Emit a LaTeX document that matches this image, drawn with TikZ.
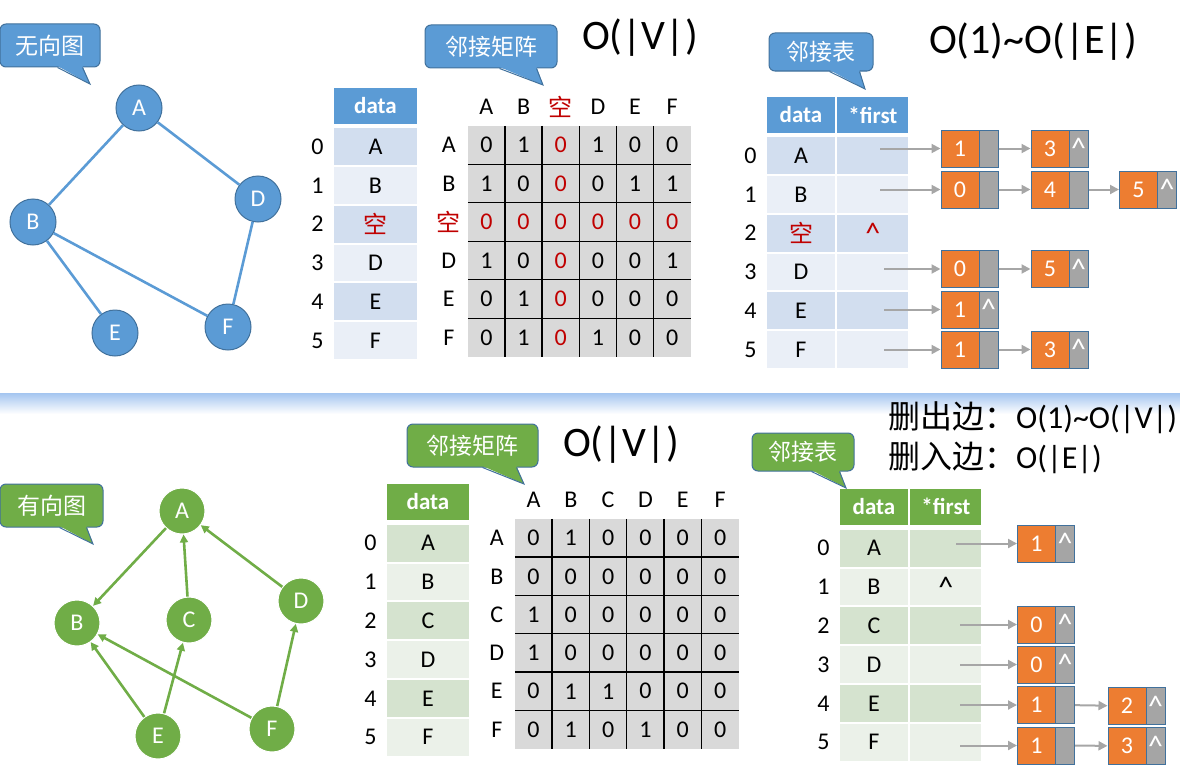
\documentclass[tikz,border=0pt]{standalone}
\usepackage{fontspec}
\setmainfont{Carlito}
\newfontfamily\cjk{Noto Sans CJK SC}
\usetikzlibrary{arrows.meta, positioning, calc}
\usepackage{xcolor}
\definecolor{ublue}{HTML}{5B9BD5}
\definecolor{outline}{HTML}{41719C}
\definecolor{uband}{HTML}{D2DEEF}
\definecolor{ubandlt}{HTML}{EAEFF7}
\definecolor{dgreen}{HTML}{70AD47}
\definecolor{dband}{HTML}{D5E3CF}
\definecolor{dbandlt}{HTML}{EBF1E9}
\definecolor{matgray}{HTML}{D9D9D9}
\definecolor{listorange}{HTML}{ED7D31}
\definecolor{listgray}{HTML}{A5A5A5}
\definecolor{ptrgray}{HTML}{A6A6A6}
\definecolor{emptyred}{HTML}{C00000}
\definecolor{sepblue}{HTML}{A4C5F0}
\newcommand{\fsz}[1]{\fontsize{#1}{#1}\selectfont}

\begin{document}
\begin{tikzpicture}[
    x=1pt, y=-1pt,
    % --- graph styles ---
    vtx/.style={circle, minimum size=46pt, inner sep=0pt, line width=1pt,
      text=white, font=\fsz{24}},
    uvtx/.style={vtx, fill=ublue, draw=outline},
    dvtx/.style={vtx, fill=dgreen, draw=white},
    uline/.style={draw=ublue, line width=2.6pt},
    darr/.style={draw=dgreen, line width=2.6pt, -{Triangle[length=8pt, width=8pt]}},
    % --- callouts ---
    bubble/.style={rectangle, rounded corners=6pt, draw=outline, line width=1pt,
      inner sep=0pt, text=white, font=\cjk\fsz{23}},
    % --- tables ---
    hdr/.style={minimum height=36pt, inner sep=0pt, text=white,
      font=\bfseries\fsz{23}},
    cell/.style={minimum height=36.8pt, inner sep=0pt, font=\fsz{24}},
    idx/.style={inner sep=0pt, font=\fsz{24}},
    num/.style={inner sep=0pt, font=\fsz{24}},
    mat/.style={fill=matgray, inner sep=0pt},
    gridline/.style={black, line width=1.3pt},
    bigo/.style={inner sep=0pt, font=\fsz{42}},
    nil/.style={inner sep=0pt, font=\fsz{30}},
    % --- linked lists ---
    lval/.style={draw=outline, fill=listorange, line width=1pt,
      minimum width=38pt, minimum height=37pt, inner sep=0pt,
      text=white, font=\fsz{24}},
    lptr/.style={draw=outline, fill=listgray, line width=1pt,
      minimum width=19pt, minimum height=37pt, inner sep=0pt,
      text=white, font=\fsz{30}},
    ptr/.style={draw=ptrgray, line width=2pt, -{Triangle[length=9pt, width=9pt]}},
  ]
  \useasboundingbox (0,0) rectangle (1180,776);

  % ── Separator band ──
  \shade[top color=sepblue, bottom color=white] (0,393) rectangle (1180,414);

  % ── Undirected graph ──
  \node[uvtx] (uA) at (139,108) {A};
  \node[uvtx] (uB) at (33,222)  {B};
  \node[uvtx] (uD) at (258,199) {D};
  \node[uvtx] (uE) at (115,333) {E};
  \node[uvtx] (uF) at (228,327) {F};
  \draw[uline] (uA) -- (uB);
  \draw[uline] (uA) -- (uD);
  \draw[uline] (uB) -- (uE);
  \draw[uline] (uB) -- (uF);
  \draw[uline] (uD) -- (uF);

  \node[bubble, fill=ublue, minimum width=100pt, minimum height=43pt]
    (ub1) at (50,45.5) {无向图};
  \coordinate (ub1tip) at (90,84);
  \fill[ublue] ($(ub1.south west)+(58,-1.5)$) -- (ub1tip) -- ($(ub1.south west)+(83,-1.5)$) -- cycle;
  \draw[outline, line width=1pt] ($(ub1.south west)+(58,0)$) -- (ub1tip) -- ($(ub1.south west)+(83,0)$);

  % ── Undirected: vertex table ──
  \node[hdr, fill=ublue, minimum width=83pt] (udh) at (375.5,106) {data};
  \foreach \txt [count=\ri from 0] in {A,B,{\cjk\color{emptyred}空},D,E,F}{
    \ifodd\ri \def\band{ubandlt}\else\def\band{uband}\fi
    \node[cell, fill=\band, minimum width=83pt] (ud\ri)
      at ($(udh.south)+(0,{22.4+38.8*\ri})$) {\txt};
    \node[idx, left=10pt of ud\ri] (udi\ri) {\ri};
  }

  % ── Undirected: adjacency matrix ──
  \node[bubble, fill=ublue, minimum width=132pt, minimum height=43pt]
    (ub2) at (491,46.5) {邻接矩阵};
  \coordinate (ub2tip) at (543,85);
  \fill[ublue] ($(ub2.south west)+(75,-1.5)$) -- (ub2tip) -- ($(ub2.south west)+(112,-1.5)$) -- cycle;
  \draw[outline, line width=1pt] ($(ub2.south west)+(75,0)$) -- (ub2tip) -- ($(ub2.south west)+(112,0)$);
  \node[bigo] (ucost) at (640,38) {O(|V|)};

  \node[mat, minimum width=223pt, minimum height=231pt] (umat) at (579.5,241.5) {};
  \foreach \k in {1,...,5}{
    \draw[gridline] ($(umat.north west)+({37.17*\k},0)$) -- ($(umat.south west)+({37.17*\k},0)$);
    \draw[gridline] ($(umat.north west)+(0,{38.5*\k})$) -- ($(umat.north east)+(0,{38.5*\k})$);
  }
  \foreach \h [count=\ci from 0] in {A,B,{\cjk\color{emptyred}空},D,E,F}{
    \node[num] (uch\ci) at ($(umat.north west)+({37.17*(\ci+0.5)},-19)$) {\h};
    \node[num] (urh\ci) at ($(umat.north west)+(-19,{38.5*(\ci+0.5)})$) {\h};
  }
  \foreach \vals [count=\ri from 0] in
      {{0,1,0,1,0,0},{1,0,0,0,1,1},{0,0,0,0,0,0},{1,0,0,0,0,1},{0,1,0,0,0,0},{0,1,0,1,0,0}}
    \foreach \v [count=\ci from 0] in \vals {
      \ifnum\ri=2 \def\numcol{emptyred}\else\ifnum\ci=2 \def\numcol{emptyred}\else\def\numcol{black}\fi\fi
      \node[num, text=\numcol] (um\ri\ci)
        at ($(umat.north west)+({37.17*(\ci+0.5)},{38.5*(\ri+0.5)})$) {\v};
    }

  % ── Undirected: adjacency list ──
  \node[bubble, fill=ublue, minimum width=104pt, minimum height=38pt]
    (ub3) at (821,52) {邻接表};
  \coordinate (ub3tip) at (865,89);
  \fill[ublue] ($(ub3.south west)+(61,-1.5)$) -- (ub3tip) -- ($(ub3.south west)+(91,-1.5)$) -- cycle;
  \draw[outline, line width=1pt] ($(ub3.south west)+(61,0)$) -- (ub3tip) -- ($(ub3.south west)+(91,0)$);
  \node[bigo] (ucost2) at (1033,42) {O(1)\textasciitilde O(|E|)};

  \node[hdr, fill=ublue, minimum width=68pt] (uah) at (801,115) {data};
  \node[hdr, fill=ublue, minimum width=71pt, right=2pt of uah] (ufh) {*first};
  \foreach \txt [count=\ri from 0] in {A,B,{\cjk\color{emptyred}空},D,E,F}{
    \ifodd\ri \def\band{ubandlt}\else\def\band{uband}\fi
    \node[cell, fill=\band, minimum width=68pt] (ua\ri)
      at ($(uah.south)+(0,{22.4+38.8*\ri})$) {\txt};
    \node[cell, fill=\band, minimum width=71pt, right=2pt of ua\ri] (uf\ri) {};
    \node[idx, left=10pt of ua\ri] (uai\ri) {\ri};
  }
  \node[nil, text=emptyred] (ufnil) at (uf2) {\textasciicircum};

  \node[lval] (ul00) at (960,148.5) {1};
  \node[lptr, right=-1pt of ul00] (ul00p) {};
  \node[lval] (ul01) at (1050,148.5) {3};
  \node[lptr, right=-1pt of ul01] (ul01p) {\textasciicircum};

  \node[lval] (ul10) at (960,189.5) {0};
  \node[lptr, right=-1pt of ul10] (ul10p) {};
  \node[lval] (ul11) at (1050,189.5) {4};
  \node[lptr, right=-1pt of ul11] (ul11p) {};
  \node[lval] (ul12) at (1138.5,189.5) {5};
  \node[lptr, right=-1pt of ul12] (ul12p) {\textasciicircum};

  \node[lval] (ul30) at (960,269) {0};
  \node[lptr, right=-1pt of ul30] (ul30p) {};
  \node[lval] (ul31) at (1050,269) {5};
  \node[lptr, right=-1pt of ul31] (ul31p) {\textasciicircum};

  \node[lval] (ul40) at (960,309.5) {1};
  \node[lptr, right=-1pt of ul40] (ul40p) {\textasciicircum};

  \node[lval] (ul50) at (960,349.5) {1};
  \node[lptr, right=-1pt of ul50] (ul50p) {};
  \node[lval] (ul51) at (1050,349.5) {3};
  \node[lptr, right=-1pt of ul51] (ul51p) {\textasciicircum};

  \draw[ptr] (ul00.west -| uf0.center) ++(7.5,0) -- (ul00.west);
  \draw[ptr] (ul10.west -| uf1.center) ++(7.5,0) -- (ul10.west);
  \draw[ptr] (ul30.west -| uf3.center) ++(11.5,0) -- (ul30.west);
  \draw[ptr] (ul40.west -| uf4.center) ++(11.5,0) -- (ul40.west);
  \draw[ptr] (ul50.west -| uf5.center) ++(11.5,0) -- (ul50.west);
  \draw[ptr] (ul00p) -- (ul01);
  \draw[ptr] (ul10p) -- (ul11);
  \draw[ptr] (ul11p) -- (ul12);
  \draw[ptr] (ul30p) -- (ul31);
  \draw[ptr] (ul50p) -- (ul51);

  % ── Directed graph ──
  \node[dvtx] (dA) at (182,511) {A};
  \node[dvtx] (dB) at (77,623)  {B};
  \node[dvtx] (dC) at (189,620) {C};
  \node[dvtx] (dD) at (301,601) {D};
  \node[dvtx] (dE) at (158,736) {E};
  \node[dvtx] (dF) at (272,729) {F};
  \draw[darr] (dA) -- (dB);
  \draw[darr] (dC) -- (dA);
  \draw[darr] (dD) -- (dA);
  \draw[darr] (dE) -- (dB);
  \draw[darr] (dE) -- (dC);
  \draw[darr] (dF) -- (dB);
  \draw[darr] (dF) -- (dD);

  \node[bubble, fill=dgreen, minimum width=103pt, minimum height=43pt]
    (db1) at (51.5,505.5) {有向图};
  \coordinate (db1tip) at (93,544);
  \fill[dgreen] ($(db1.south west)+(60,-1.5)$) -- (db1tip) -- ($(db1.south west)+(87,-1.5)$) -- cycle;
  \draw[outline, line width=1pt] ($(db1.south west)+(60,0)$) -- (db1tip) -- ($(db1.south west)+(87,0)$);

  % ── Directed: vertex table ──
  \node[hdr, fill=dgreen, minimum width=82pt] (ddh) at (428,501.5) {data};
  \foreach \txt [count=\ri from 0] in {A,B,C,D,E,F}{
    \ifodd\ri \def\band{dbandlt}\else\def\band{dband}\fi
    \node[cell, fill=\band, minimum width=82pt] (dd\ri)
      at ($(ddh.south)+(0,{23.4+38.8*\ri})$) {\txt};
    \node[idx, left=10pt of dd\ri] (ddi\ri) {\ri};
  }

  % ── Directed: adjacency matrix ──
  \node[bubble, fill=dgreen, minimum width=131pt, minimum height=43pt]
    (db2) at (472.5,445.5) {邻接矩阵};
  \coordinate (db2tip) at (524,484);
  \fill[dgreen] ($(db2.south west)+(76,-1.5)$) -- (db2tip) -- ($(db2.south west)+(110,-1.5)$) -- cycle;
  \draw[outline, line width=1pt] ($(db2.south west)+(76,0)$) -- (db2tip) -- ($(db2.south west)+(110,0)$);
  \node[bigo] (dcost) at (621,445) {O(|V|)};

  \node[mat, minimum width=224pt, minimum height=230pt] (dmat) at (627,634) {};
  \foreach \k in {1,...,5}{
    \draw[gridline] ($(dmat.north west)+({37.33*\k},0)$) -- ($(dmat.south west)+({37.33*\k},0)$);
    \draw[gridline] ($(dmat.north west)+(0,{38.33*\k})$) -- ($(dmat.north east)+(0,{38.33*\k})$);
  }
  \foreach \h [count=\ci from 0] in {A,B,C,D,E,F}{
    \node[num] (dch\ci) at ($(dmat.north west)+({37.33*(\ci+0.5)},-19)$) {\h};
    \node[num] (drh\ci) at ($(dmat.north west)+(-18,{38.33*(\ci+0.5)})$) {\h};
  }
  \foreach \vals [count=\ri from 0] in
      {{0,1,0,0,0,0},{0,0,0,0,0,0},{1,0,0,0,0,0},{1,0,0,0,0,0},{0,1,1,0,0,0},{0,1,0,1,0,0}}
    \foreach \v [count=\ci from 0] in \vals {
      \node[num] (dm\ri\ci)
        at ($(dmat.north west)+({37.33*(\ci+0.5)},{38.33*(\ri+0.5)})$) {\v};
    }

  % ── Directed: adjacency list ──
  \node[anchor=west, inner sep=0pt, font=\fsz{32}] (ddel1) at (888,418)
    {{\cjk 删出边：}O(1)\textasciitilde O(|V|)};
  \node[anchor=west, inner sep=0pt, font=\fsz{32}] (ddel2) at (888,458)
    {{\cjk 删入边：}O(|E|)};

  \node[bubble, fill=dgreen, minimum width=102pt, minimum height=38pt]
    (db3) at (803,452) {邻接表};
  \coordinate (db3tip) at (846,488);
  \fill[dgreen] ($(db3.south west)+(60,-1.5)$) -- (db3tip) -- ($(db3.south west)+(88,-1.5)$) -- cycle;
  \draw[outline, line width=1pt] ($(db3.south west)+(60,0)$) -- (db3tip) -- ($(db3.south west)+(88,0)$);

  \node[hdr, fill=dgreen, minimum width=68pt] (dah) at (874,506.5) {data};
  \node[hdr, fill=dgreen, minimum width=71pt, right=2pt of dah] (dfh) {*first};
  \foreach \txt [count=\ri from 0] in {A,B,C,D,E,F}{
    \ifodd\ri \def\band{dbandlt}\else\def\band{dband}\fi
    \node[cell, fill=\band, minimum width=68pt] (da\ri)
      at ($(dah.south)+(0,{23.4+38.8*\ri})$) {\txt};
    \node[cell, fill=\band, minimum width=71pt, right=2pt of da\ri] (df\ri) {};
    \node[idx, left=10pt of da\ri] (dai\ri) {\ri};
  }
  \node[nil] (dfnil) at (df1) {\textasciicircum};

  \node[lval] (dl00) at (1036.5,543.5) {1};
  \node[lptr, right=-1pt of dl00] (dl00p) {\textasciicircum};
  \node[lval] (dl20) at (1036.5,624.5) {0};
  \node[lptr, right=-1pt of dl20] (dl20p) {\textasciicircum};
  \node[lval] (dl30) at (1036.5,664.5) {0};
  \node[lptr, right=-1pt of dl30] (dl30p) {\textasciicircum};
  \node[lval] (dl40) at (1036.5,705) {1};
  \node[lptr, right=-1pt of dl40] (dl40p) {};
  \node[lval] (dl41) at (1127,706) {2};
  \node[lptr, right=-1pt of dl41] (dl41p) {\textasciicircum};
  \node[lval] (dl50) at (1036.5,745.5) {1};
  \node[lptr, right=-1pt of dl50] (dl50p) {};
  \node[lval] (dl51) at (1127,746) {3};
  \node[lptr, right=-1pt of dl51] (dl51p) {\textasciicircum};

  \draw[ptr] (dl00.west -| df0.center) ++(10.5,0) -- (dl00.west);
  \draw[ptr] (dl20.west -| df2.center) ++(14.5,0) -- (dl20.west);
  \draw[ptr] (dl30.west -| df3.center) ++(14.5,0) -- (dl30.west);
  \draw[ptr] (dl40.west -| df4.center) ++(14.5,0) -- (dl40.west);
  \draw[ptr] (dl50.west -| df5.center) ++(14.5,0) -- (dl50.west);
  \draw[ptr] (dl40p) -- (dl41);
  \draw[ptr] (dl50p) -- (dl51);

\end{tikzpicture}
\end{document}
